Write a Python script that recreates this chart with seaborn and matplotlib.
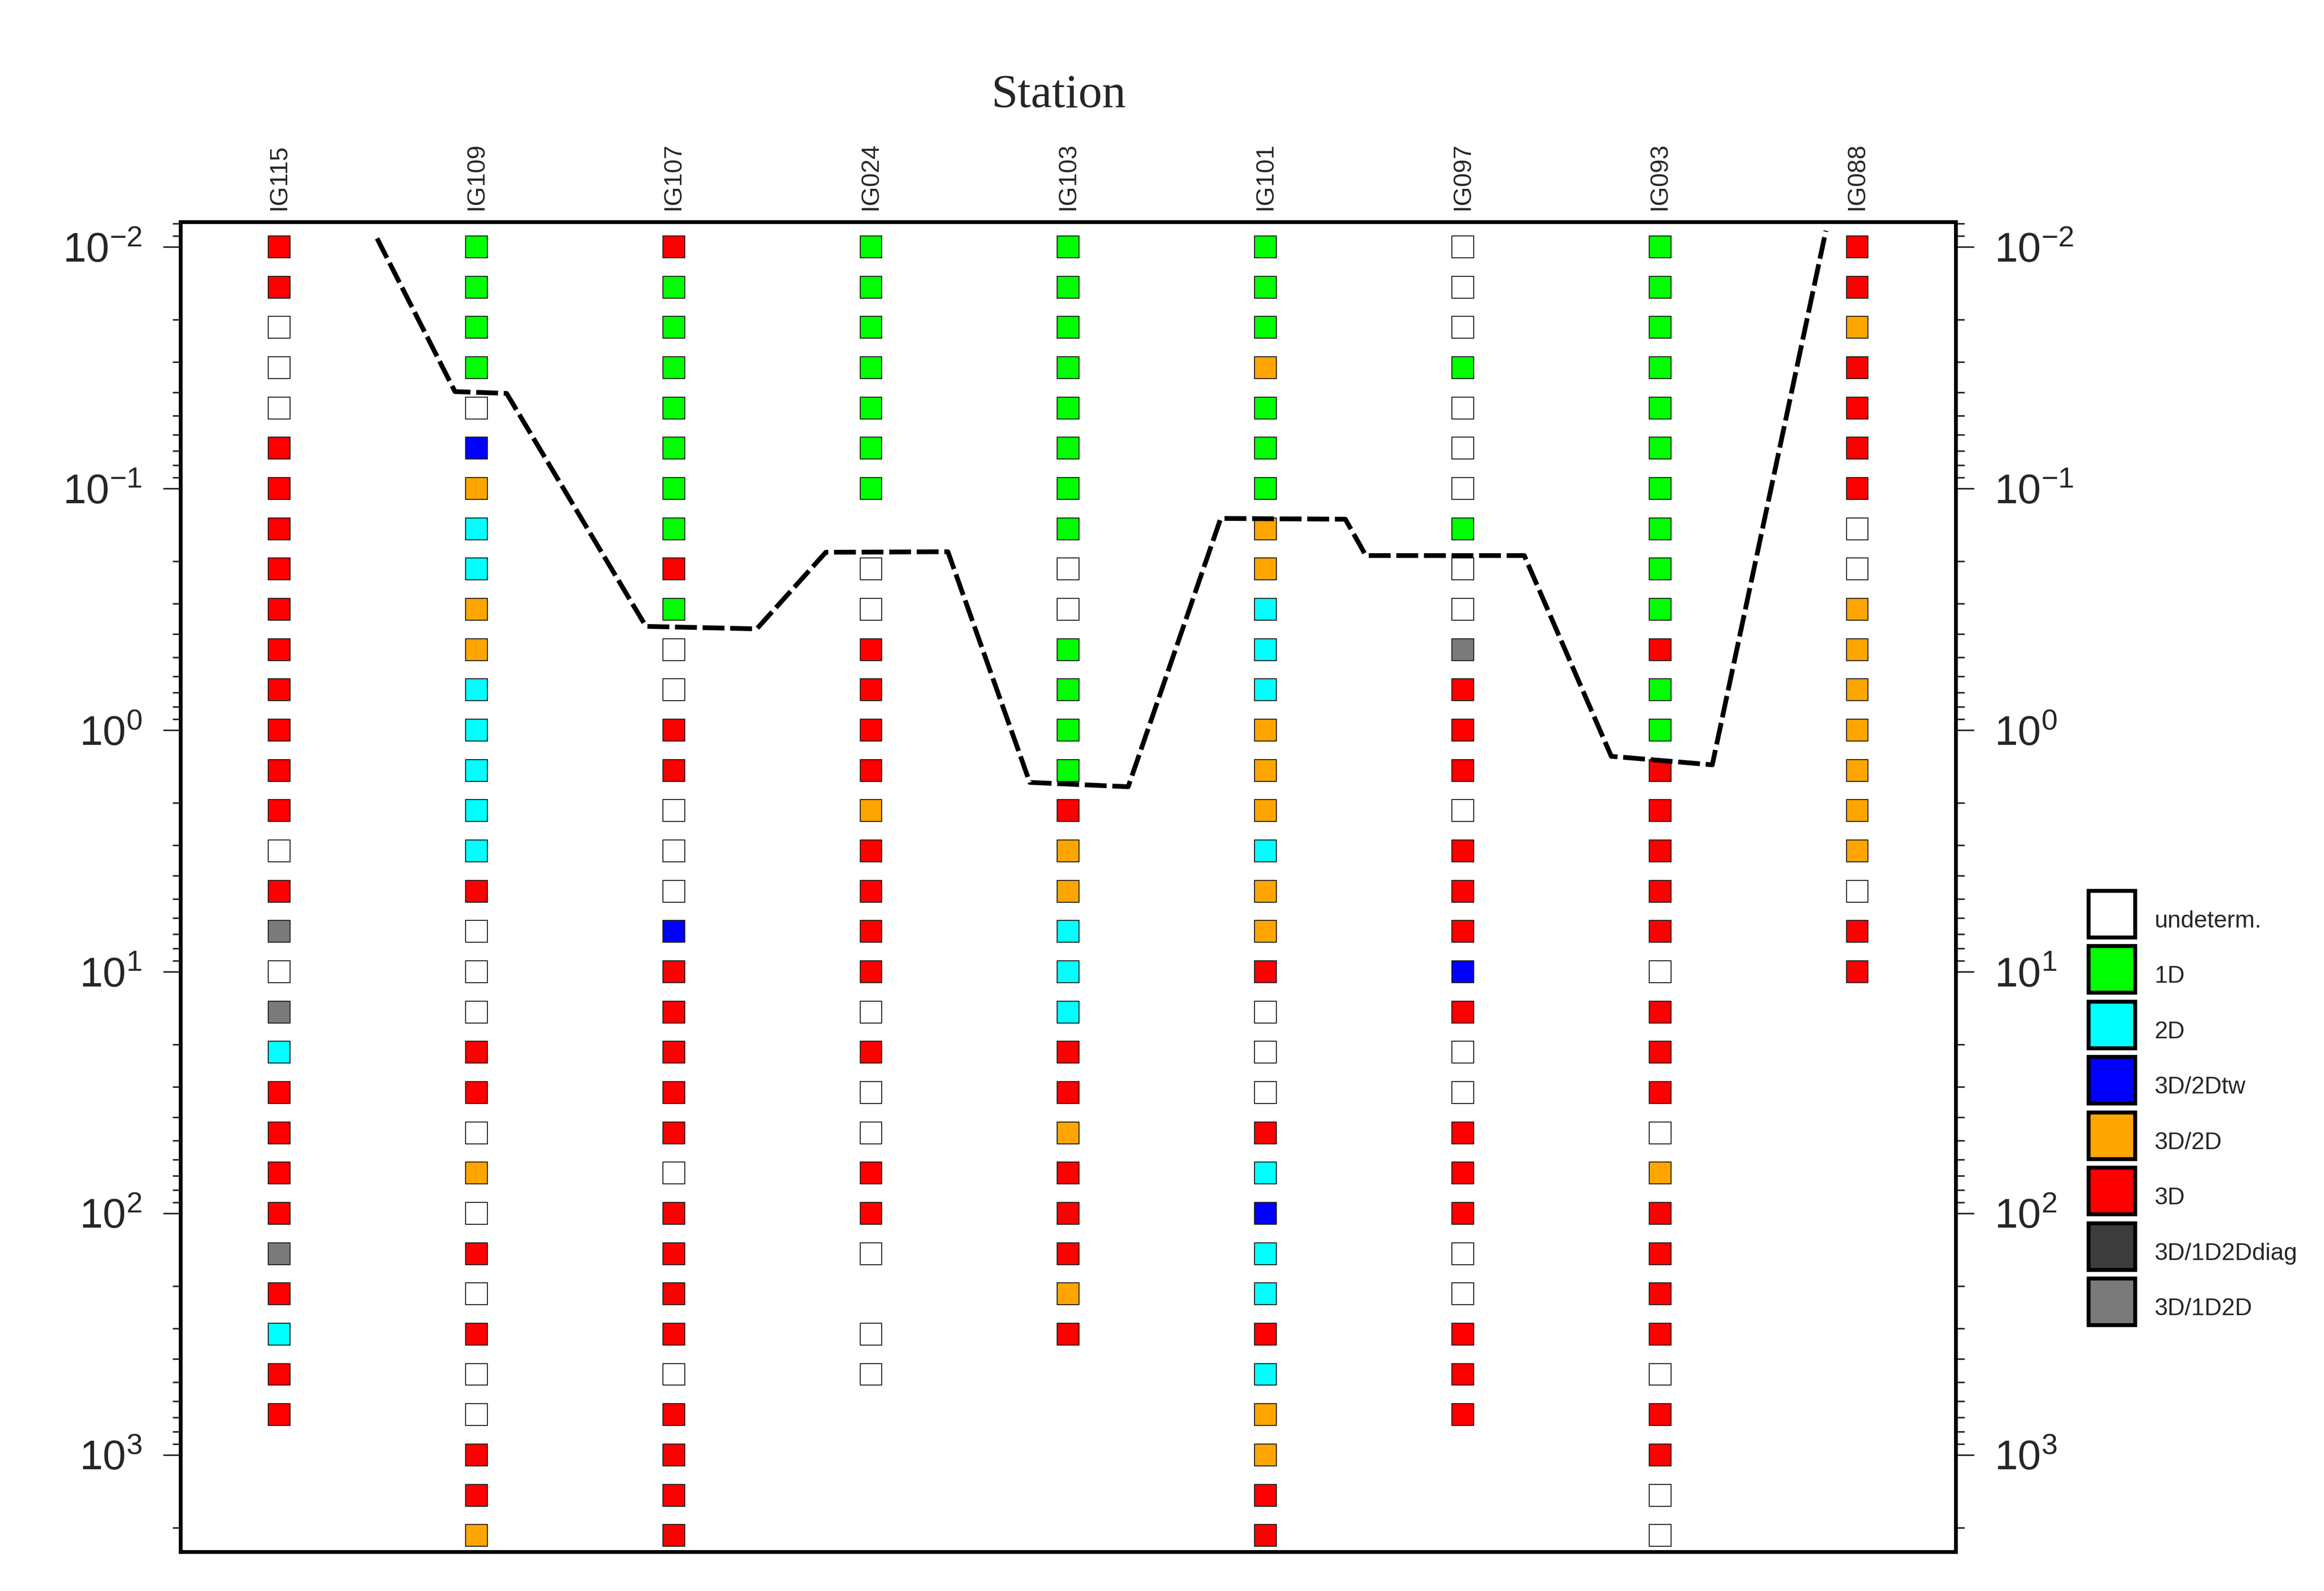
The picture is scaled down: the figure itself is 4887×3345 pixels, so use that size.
import numpy as np
import pandas as pd
import matplotlib
matplotlib.use("Agg")
import matplotlib.pyplot as plt
import seaborn as sns
from matplotlib.lines import Line2D
from matplotlib.ticker import LogLocator, NullFormatter

# Stations along the top of the section
stations = ["IG115", "IG109", "IG107", "IG024", "IG103", "IG101", "IG097", "IG093", "IG088"]

# Periods (s), 6 per decade, from 10^-2 downwards
periods = [0.01, 0.0147, 0.0215, 0.0316, 0.0464, 0.0681,
           0.1, 0.147, 0.215, 0.316, 0.464, 0.681,
           1.0, 1.47, 2.15, 3.16, 4.64, 6.81,
           10.0, 14.7, 21.5, 31.6, 46.4, 68.1,
           100.0, 147.0, 215.0, 316.0, 464.0, 681.0,
           1000.0, 1470.0, 2150.0]

# Dimensionality class per period, one string per station
# U=undeterm. 1=1D 2=2D T=3D/2Dtw O=3D/2D 3=3D D=3D/1D2Ddiag G=3D/1D2D .=no data
ig115 = "33UUU3333333333U3GUG23333G3233"
ig109 = "1111UTO22OO222223UUU33UOU3U3UU33O"
ig107 = "3111111131UU33UUUT33333U3333U3333"
ig024 = "1111111.UU3333O3333U3UU33U.UU"
ig103 = "11111111UU11113OO22233O333O3"
ig101 = "111O111OO222OOO2OO3UUU32T2232OO33"
ig097 = "UUU1UUU1UUG333U333T3UU333UU333"
ig093 = "111111111131133333U333UO3333U33UU"
ig088 = "33O3333UUOOOOOOOU33"
columns = [ig115, ig109, ig107, ig024, ig103, ig101, ig097, ig093, ig088]

# Class names and colours (legend order)
class_codes = ["U", "1", "2", "T", "O", "3", "D", "G"]
class_names = ["undeterm.", "1D", "2D", "3D/2Dtw", "3D/2D", "3D", "3D/1D2Ddiag", "3D/1D2D"]
class_colors = ["#ffffff", "#00ff00", "#00ffff", "#0000ff", "#ffa500", "#ff0000", "#3c3c3c", "#7a7a7a"]

# Dashed line: station position (fractional) and period
line_pos = [0.496, 0.891, 1.153, 1.859, 2.421, 2.771, 3.390, 3.805, 4.304,
            4.773, 5.405, 5.509, 6.312, 6.753, 7.265, 7.841]
line_period = [0.00922, 0.0397, 0.0404, 0.372, 0.381, 0.1836, 0.1827, 1.646, 1.715,
               0.133, 0.134, 0.1895, 0.1895, 1.283, 1.392, 0.00857]

# long table
code_to_name = dict(zip(class_codes, class_names))
rows = []
for i, col in enumerate(columns):
    for j, c in enumerate(col):
        if c == ".":
            continue
        rows.append({"pos": i, "station": stations[i], "period": periods[j],
                     "cls": code_to_name[c]})
df = pd.DataFrame(rows)
palette = dict(zip(class_names, class_colors))

sns.set_theme(style="ticks")
plt.rcParams["font.family"] = ["Liberation Sans", "DejaVu Sans"]
plt.rcParams["mathtext.fontset"] = "custom"
plt.rcParams["mathtext.rm"] = "Liberation Sans"
plt.rcParams["mathtext.it"] = "Liberation Sans:italic"
plt.rcParams["mathtext.bf"] = "Liberation Sans:bold"

fig = plt.figure(figsize=(4887 / 300, 3345 / 300), dpi=300)
ax = fig.add_axes([0.0777, 0.02437, 0.8416 - 0.0777, 0.8605 - 0.02437])

sns.scatterplot(data=df, x="pos", y="period", hue="cls", palette=palette,
                marker="s", s=121, edgecolor="#222222", linewidth=0.5,
                legend=False, ax=ax, zorder=2)

ax.plot(line_pos, line_period, color="black", lw=2.4,
        linestyle=(0, (4.6, 1.2)), zorder=3)

ax.set_yscale("log")
ax.set_ylim(10 ** 3.4026, 10 ** -2.1033)
ax.set_xlim(-0.5, 8.5)
ax.yaxis.set_major_locator(LogLocator(base=10, numticks=20))
ax.yaxis.set_minor_locator(LogLocator(base=10, subs=np.arange(2, 10), numticks=20))
ax.yaxis.set_minor_formatter(NullFormatter())

ax.set_xticks(range(len(stations)))
ax.set_xticklabels(stations, rotation=90, fontsize=12.5)
ax.tick_params(axis="x", top=True, labeltop=True, bottom=False, labelbottom=False,
               length=0, pad=6)
ax.tick_params(axis="y", which="both", left=True, right=True, labelleft=True,
               labelright=True, direction="out", width=0.8, labelsize=21)
ax.tick_params(axis="y", which="major", length=9, pad=10.5)
ax.tick_params(axis="y", which="minor", length=4.2)
ax.set_xlabel("")
ax.set_ylabel("")
for sp in ax.spines.values():
    sp.set_linewidth(1.9)
    sp.set_color("black")

fig.text(0.4555, 0.940, "Station", ha="center", va="center", fontsize=24,
         family=["Liberation Serif", "DejaVu Serif"])

handles = [Line2D([], [], marker="s", linestyle="none", markersize=23.5,
                  markerfacecolor=c, markeredgecolor="black", markeredgewidth=2)
           for c in class_colors]
fig.legend(handles, class_names, loc="upper left", bbox_to_anchor=(0.8979, 0.4338),
           frameon=False, borderpad=0, borderaxespad=0, handlelength=2.1,
           handleheight=2.1, labelspacing=0.72, handletextpad=0.75, fontsize=12)

fig.savefig("out.png", dpi=300)
